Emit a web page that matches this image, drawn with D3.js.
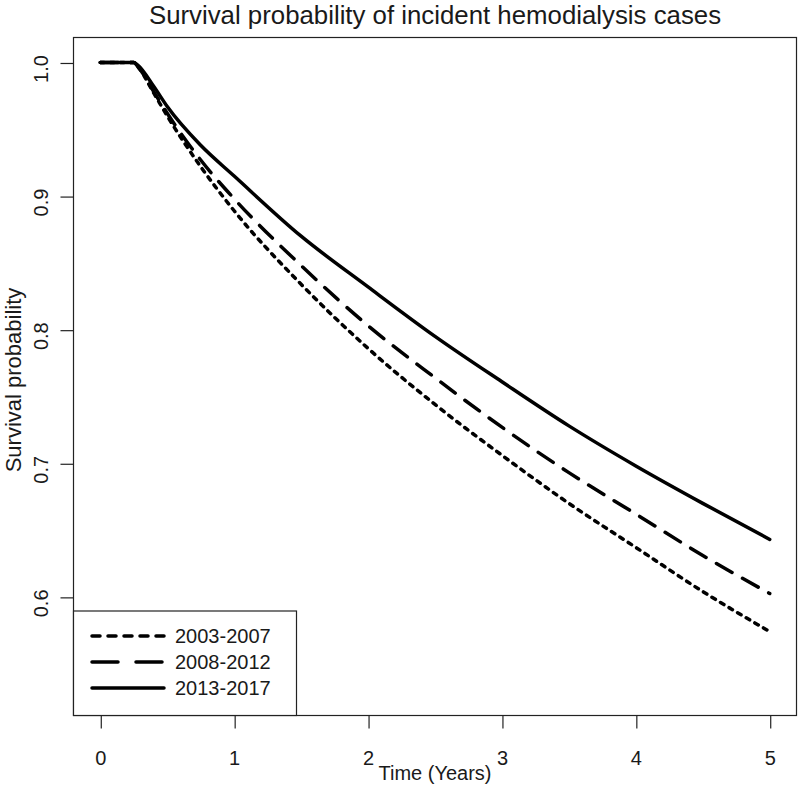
<!DOCTYPE html>
<html><head><meta charset="utf-8">
<script src="https://cdn.jsdelivr.net/npm/d3@7"></script>
<style>body{margin:0;background:#fff}svg{display:block}text{font-family:"Liberation Sans",Arial,sans-serif;fill:#1a1a1a}</style>
</head><body><svg id="c" width="800" height="793"></svg>
<script>
const times = [0, 0.25, 0.28, 0.4, 0.5, 0.75, 1, 1.5, 2, 2.5, 3, 3.5, 4, 4.5, 5];
const s2003 = [1, 1, 0.997, 0.977, 0.960, 0.922, 0.889, 0.834, 0.786, 0.744, 0.706, 0.670, 0.637, 0.604, 0.574];
const s2008 = [1, 1, 0.997, 0.978, 0.962, 0.927, 0.898, 0.848, 0.803, 0.764, 0.727, 0.693, 0.662, 0.631, 0.6025];
const s2013 = [1, 1, 0.998, 0.982, 0.967, 0.938, 0.915, 0.870, 0.832, 0.795, 0.761, 0.728, 0.698, 0.670, 0.643];
const seriesNames = ["2003-2007", "2008-2012", "2013-2017"];
const xTicks = [0, 1, 2, 3, 4, 5];
const yTicks = [0.6, 0.7, 0.8, 0.9, 1.0];

const svg = d3.select("#c");
const L = 73.5, R = 796.5, T = 37.5, B = 715.5;
const x = d3.scaleLinear().domain([-0.2, 5.2]).range([L, R]);
const y = d3.scaleLinear().domain([0.5112, 1.0187]).range([B, T]);

const curveDash = ["4,6", "18,12", null];
const legDash = ["8,8", "26,18", null];
const seriesData = [s2003, s2008, s2013];

const line = d3.line().x((d, i) => x(times[i])).y(d => y(d)).curve(d3.curveMonotoneX);
seriesData.forEach((s, k) => {
  svg.append("path").attr("d", line(s)).attr("fill", "none").attr("stroke", "#000")
    .attr("stroke-width", 3.5).attr("stroke-linecap", "round").attr("stroke-linejoin", "round")
    .attr("stroke-dasharray", curveDash[k]);
});

// box
svg.append("rect").attr("x", L).attr("y", T).attr("width", R - L).attr("height", B - T)
  .attr("fill", "none").attr("stroke", "#222").attr("stroke-width", 1.2);

// x axis
const xa = svg.append("g").attr("transform", `translate(0,${B})`)
  .call(d3.axisBottom(x).tickValues(xTicks).tickFormat(d3.format("d")).tickSize(13).tickPadding(22));
xa.select(".domain").remove();
xa.selectAll("line").attr("stroke", "#222").attr("stroke-width", 1.2).attr("transform", "translate(0.5,0)");
xa.selectAll("text").attr("font-size", 20).attr("fill", "#1a1a1a").attr("font-family", "Liberation Sans, Arial, sans-serif");

// y axis
const ya = svg.append("g").attr("transform", `translate(${L},0)`)
  .call(d3.axisLeft(y).tickValues(yTicks).tickFormat(d3.format(".1f")).tickSize(13));
ya.select(".domain").remove();
ya.selectAll("line").attr("stroke", "#222").attr("stroke-width", 1.2).attr("transform", "translate(0,0.5)");
ya.selectAll("text").remove();
ya.selectAll(".tick").append("text").attr("transform", "translate(-26,6) rotate(-90)")
  .attr("text-anchor", "middle").attr("font-size", 20).attr("fill", "#1a1a1a")
  .text(d => d3.format(".1f")(d));

// titles
svg.append("text").attr("x", (L + R) / 2).attr("y", 24).attr("text-anchor", "middle")
  .attr("font-size", 25.8).text("Survival probability of incident hemodialysis cases");
svg.append("text").attr("x", (L + R) / 2).attr("y", 780).attr("text-anchor", "middle")
  .attr("font-size", 20).text("Time (Years)");
svg.append("text").attr("transform", `translate(20.5,380) rotate(-90)`).attr("text-anchor", "middle")
  .attr("font-size", 22).text("Survival probability");

// legend
const lg = svg.append("g");
lg.append("rect").attr("x", L).attr("y", 611).attr("width", 223).attr("height", B - 611)
  .attr("fill", "#fff").attr("stroke", "#222").attr("stroke-width", 1.2);
const legY = [636, 662, 688];
seriesNames.forEach((n, k) => {
  lg.append("line").attr("x1", 92).attr("x2", 164).attr("y1", legY[k]).attr("y2", legY[k])
    .attr("stroke", "#000").attr("stroke-width", 3.5).attr("stroke-linecap", "round")
    .attr("stroke-dasharray", legDash[k]);
  lg.append("text").attr("x", 175).attr("y", legY[k] + 7).attr("font-size", 20).text(n);
});
</script></body></html>
